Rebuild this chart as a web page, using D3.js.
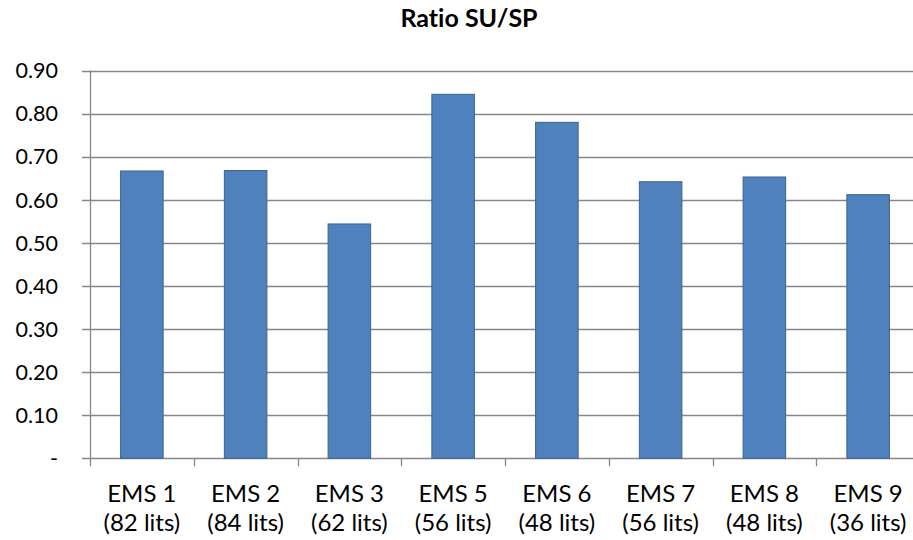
<!DOCTYPE html>
<html>
<head>
<meta charset="utf-8">
<script src="https://cdn.jsdelivr.net/npm/d3@7"></script>
<style>
  body { margin: 0; background: #fff; }
  text { font-family: Lato, "Open Sans", sans-serif; fill: #000; font-variant-ligatures: none; }
</style>
</head>
<body>
<div id="chart"></div>
<script>
// data
const categories = ["EMS 1", "EMS 2", "EMS 3", "EMS 5", "EMS 6", "EMS 7", "EMS 8", "EMS 9"];
const sizes = ["(82 lits)", "(84 lits)", "(62 lits)", "(56 lits)", "(48 lits)", "(56 lits)", "(48 lits)", "(36 lits)"];
const ratios = [0.667, 0.668, 0.544, 0.845, 0.780, 0.642, 0.653, 0.612];
const yTicks = [0, 0.1, 0.2, 0.3, 0.4, 0.5, 0.6, 0.7, 0.8, 0.9];

const width = 913, height = 540;
// plot area runs a bit past the right edge, like the original screenshot
const plot = { left: 90, right: 920, top: 70.6, bottom: 458.3 };

const svg = d3.select("#chart").append("svg")
    .attr("width", width)
    .attr("height", height);

const x = d3.scaleBand()
    .domain(categories)
    .range([plot.left, plot.right])
    .paddingInner(0.59)
    .paddingOuter(0.295);

const y = d3.scaleLinear()
    .domain([0, 0.9])
    .range([plot.bottom, plot.top]);

// gridlines (with the little tick stub on the left)
svg.append("g")
    .selectAll("line")
    .data(yTicks)
    .join("line")
    .attr("x1", plot.left - 8)
    .attr("x2", plot.right)
    .attr("y1", d => Math.round(y(d)) + 0.5)
    .attr("y2", d => Math.round(y(d)) + 0.5)
    .attr("stroke", "#878787")
    .attr("stroke-width", 1.3);

// y labels
svg.append("g")
    .selectAll("text")
    .data(yTicks)
    .join("text")
    .attr("x", 58)
    .attr("y", d => y(d))
    .attr("dy", "0.36em")
    .attr("text-anchor", "end")
    .style("font-size", "21.5px")
    .text(d => d === 0 ? "-" : d.toFixed(2));

// y axis line
svg.append("line")
    .attr("x1", plot.left + 0.5).attr("x2", plot.left + 0.5)
    .attr("y1", plot.top).attr("y2", plot.bottom + 8)
    .attr("stroke", "#878787")
    .attr("stroke-width", 1.3);

// x tick marks at category borders
const borders = d3.range(categories.length + 1).map(i => plot.left + i * x.step());
svg.append("g")
    .selectAll("line")
    .data(borders.slice(1))
    .join("line")
    .attr("x1", d => Math.round(d) + 0.5)
    .attr("x2", d => Math.round(d) + 0.5)
    .attr("y1", plot.bottom)
    .attr("y2", plot.bottom + 8)
    .attr("stroke", "#878787")
    .attr("stroke-width", 1.3);

// bars
svg.append("g")
    .selectAll("rect")
    .data(ratios)
    .join("rect")
    .attr("x", (d, i) => x(categories[i]))
    .attr("y", d => y(d))
    .attr("width", x.bandwidth())
    .attr("height", d => y(0) - y(d))
    .attr("fill", "#4f81bd")
    .attr("stroke", "#3a6394")
    .attr("stroke-width", 1);

// category labels, two lines
const lab = svg.append("g")
    .selectAll("text")
    .data(categories)
    .join("text")
    .attr("text-anchor", "middle")
    .style("font-size", "24px");
lab.append("tspan")
    .attr("x", d => x(d) + x.bandwidth() / 2)
    .attr("y", 502)
    .text(d => d);
lab.append("tspan")
    .attr("x", d => x(d) + x.bandwidth() / 2)
    .attr("y", 531)
    .text((d, i) => sizes[i]);

// title
svg.append("text")
    .attr("x", 469)
    .attr("y", 27)
    .attr("text-anchor", "middle")
    .style("font-size", "25px")
    .style("font-weight", "bold")
    .text("Ratio SU/SP");
</script>
</body>
</html>
